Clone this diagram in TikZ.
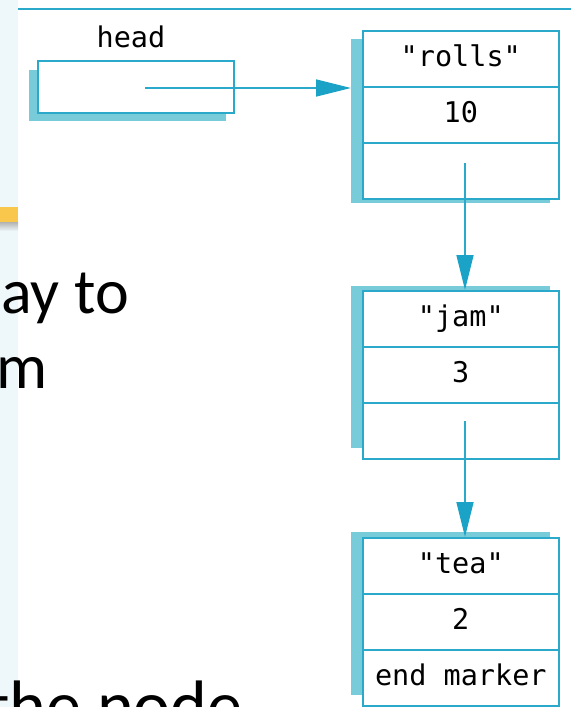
\documentclass[tikz,border=0pt]{standalone}
\usepackage{fontspec}
\newfontfamily\slidefont{Carlito}
\newfontfamily\codefont{DejaVu Sans Mono}
\usetikzlibrary{arrows.meta}

\definecolor{linkblue}{HTML}{2AA9CA}
\definecolor{shadowblue}{HTML}{78CCDA}
\definecolor{tipblue}{HTML}{1AA3C6}
\definecolor{paneltint}{HTML}{EEF7FA}
\definecolor{notebar}{HTML}{F9C74C}

\tikzset{
  codetext/.style={font=\codefont\fontsize{28.5}{31}\selectfont},
  cell/.style={codetext, draw=linkblue, line width=1.6pt, fill=white,
    minimum width=196pt, minimum height=56pt, inner sep=0pt,
    text height=21pt, text depth=5pt, anchor=north west},
  dropshadow/.style={fill=shadowblue, draw=none, inner sep=0pt, anchor=north west},
  link/.style={draw=linkblue, line width=1.6pt,
    -{Triangle[length=35pt,width=17pt,color=tipblue]}},
  slidetext/.style={font=\slidefont\fontsize{64}{77}\selectfont, inner sep=0pt},
  slidetextbig/.style={font=\slidefont\fontsize{70}{84}\selectfont, inner sep=0pt}
}

\begin{document}
\begin{tikzpicture}[x=1pt, y=-1pt]
  \useasboundingbox (0,0) rectangle (571,707);
  \clip (0,0) rectangle (571,707);
  \fill[white] (0,0) rectangle (571,707);

  % side panel with its note bar
  \fill[paneltint] (0,0) rectangle (18,707);
  \fill[notebar] (0,207) rectangle (18,222);
  \shade[top color=black!30, bottom color=paneltint] (0,222) rectangle (18,231);

  % frame line along the top
  \draw[linkblue, line width=1.5pt] (18,9) -- (571,9);

  % shadows behind the boxes
  \node[dropshadow, minimum width=197pt, minimum height=51pt] (head-shadow) at (29,70) {};
  \node[dropshadow, minimum width=199pt, minimum height=164pt] (rolls-shadow) at (351,39) {};
  \node[dropshadow, minimum width=199pt, minimum height=162pt] (jam-shadow) at (351,286) {};
  \node[dropshadow, minimum width=199pt, minimum height=163pt] (tea-shadow) at (351,532) {};

  % head pointer
  \node[codetext, anchor=base] (head-label) at (131,47) {head};
  \node[draw=linkblue, line width=1.6pt, fill=white, anchor=north west,
        minimum width=196pt, minimum height=52pt, inner sep=0pt] (head) at (37,60) {};

  % list nodes
  \node[cell] (rolls-key)  at (362,30)  {"rolls"};
  \node[cell] (rolls-val)  at (362,86)  {10};
  \node[cell] (rolls-next) at (362,142) {};

  \node[cell] (jam-key)  at (362,290) {"jam"};
  \node[cell] (jam-val)  at (362,346) {3};
  \node[cell] (jam-next) at (362,402) {};

  \node[cell] (tea-key)  at (362,537) {"tea"};
  \node[cell] (tea-val)  at (362,593) {2};
  \node[cell] (tea-next) at (362,649) {end marker};

  % links
  \coordinate (head-ptr)  at (145,88);
  \coordinate (rolls-ptr) at (465,163);
  \coordinate (jam-ptr)   at (465,421);
  \draw[link] (head-ptr) -- (head-ptr -| rolls-shadow.west);
  \draw[link] (rolls-ptr) -- (rolls-ptr |- jam-key.north);
  \draw[link] (jam-ptr) -- (jam-ptr |- tea-key.north);

  % slide text running along the left
  \node[slidetext, anchor=base east] (line-one) at (129,313) {ay to};
  \node[slidetext, anchor=base west] (line-two) at (-4,388) {m};
  \node[slidetextbig, anchor=base west] (line-three) at (-14,729) {the node};
\end{tikzpicture}
\end{document}
